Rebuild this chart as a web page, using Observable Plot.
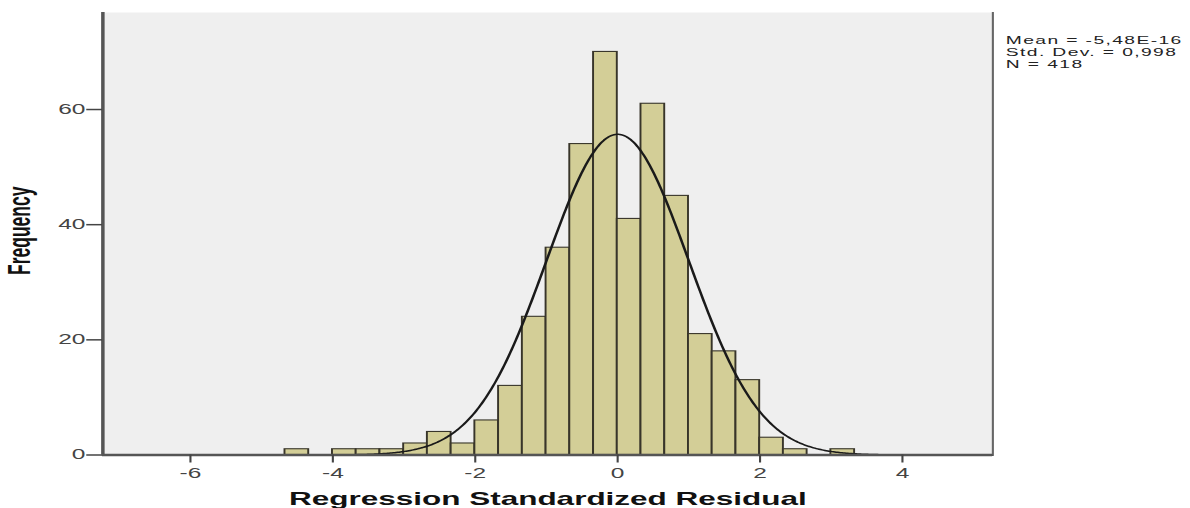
<!DOCTYPE html>
<html><head><meta charset="utf-8">
<script src="https://cdn.jsdelivr.net/npm/d3@7"></script>
<script src="https://cdn.jsdelivr.net/npm/@observablehq/plot@0.6"></script>
<style>html,body{margin:0;padding:0;background:#fff;overflow:hidden} #chart svg{display:block}</style>
</head><body><div id="chart"></div>
<script>
// Histogram bins (lower edge of each non-empty bin) and their frequencies
const binLow = [-4.667, -4, -3.667, -3.333, -3, -2.667, -2.333, -2, -1.667, -1.333, -1, -0.667, -0.333, 0, 0.333, 0.667, 1, 1.333, 1.667, 2, 2.333, 3];
const frequency = [1, 1, 1, 1, 2, 4, 2, 6, 12, 24, 36, 54, 70, 41, 61, 45, 21, 18, 13, 3, 1, 1];
const binWidth = 1 / 3;
const xTicks = [-6, -4, -2, 0, 2, 4];
const yTicks = [0, 20, 40, 60];
const statMean = -5.48e-16, statSd = 0.998, statN = 418;
const statsLines = ["Mean = -5,48E-16", "Std. Dev. = 0,998", "N = 418"];
const xLabel = "Regression Standardized Residual";
const yLabel = "Frequency";

const STRETCH = 1.75;              // the reference is horizontally stretched
const W = 1190 / STRETCH, H = 508;
const xDomain = [-7.23, 5.27];
const yDomain = [0, 76.85];

const bins = binLow.map((x1, i) => ({x1, x2: x1 + binWidth, y: frequency[i]}));
const curve = d3.range(xDomain[0], xDomain[1] + 0.001, 0.02).map(x => ({
  x, y: statN * binWidth / (statSd * Math.sqrt(2 * Math.PI)) * Math.exp(-0.5 * ((x - statMean) / statSd) ** 2)
}));

const chart = Plot.plot({
  width: W, height: H,
  marginLeft: 102 / STRETCH, marginRight: (1190 - 992) / STRETCH, marginTop: 12, marginBottom: 53.5,
  style: {fontFamily: "'Liberation Sans', Arial, sans-serif", background: "#fff", overflow: "visible"},
  x: {domain: xDomain},
  y: {domain: yDomain},
  marks: [
    Plot.frame({fill: "#efefef", stroke: null}),
    Plot.rect(bins, {x1: "x1", x2: "x2", y1: d => 0, y2: "y", fill: "#d3ce97", stroke: "#38352a", strokeWidth: 1.1}),
    Plot.line(curve, {x: "x", y: "y", stroke: "#1a1a1a", strokeWidth: 1.5}),
    Plot.ruleX([xDomain[0]], {stroke: "#555", strokeWidth: 2}),
    Plot.ruleX([xDomain[1]], {stroke: "#666", strokeWidth: 1.2}),
    Plot.ruleY([0], {stroke: "#555", strokeWidth: 2.5}),
    Plot.axisX({ticks: xTicks, tickSize: 8, tickPadding: 5, tickFormat: d => String(d), label: null, fontSize: 14, stroke: "#444", fill: "#444", strokeWidth: 1.2}),
    Plot.axisY({ticks: yTicks, tickSize: 9, tickPadding: 1, tickFormat: d => String(d), label: null, fontSize: 14, stroke: "#444", fill: "#444", strokeWidth: 1.5}),
    Plot.text([yLabel], {text: d => d, frameAnchor: "left", textAnchor: "middle", lineAnchor: "middle", dx: -47, dy: -3, rotate: -90, fontWeight: "bold", fontSize: 17.5, fill: "#111"}),
    Plot.text([xLabel], {text: d => d, frameAnchor: "bottom", textAnchor: "middle", lineAnchor: "middle", dy: 44.5, fontWeight: "bold", fontSize: 18, fill: "#111"}),
    Plot.text([statsLines.join("\n")], {text: d => d, frameAnchor: "top-right", textAnchor: "start", lineAnchor: "top", dx: 7.4, dy: 23, fontSize: 11, lineHeight: 1.1, fill: "#222"})
  ]
});

d3.select(chart).selectAll("text")
  .filter(function() { return this.textContent.startsWith("Mean"); })
  .attr("letter-spacing", 0.8);

chart.setAttribute("width", 1190);
chart.setAttribute("height", 508);
chart.setAttribute("preserveAspectRatio", "none");
chart.style.maxWidth = "none";
chart.style.width = "1190px";
chart.style.height = "508px";
document.getElementById("chart").appendChild(chart);
</script>
</body></html>
